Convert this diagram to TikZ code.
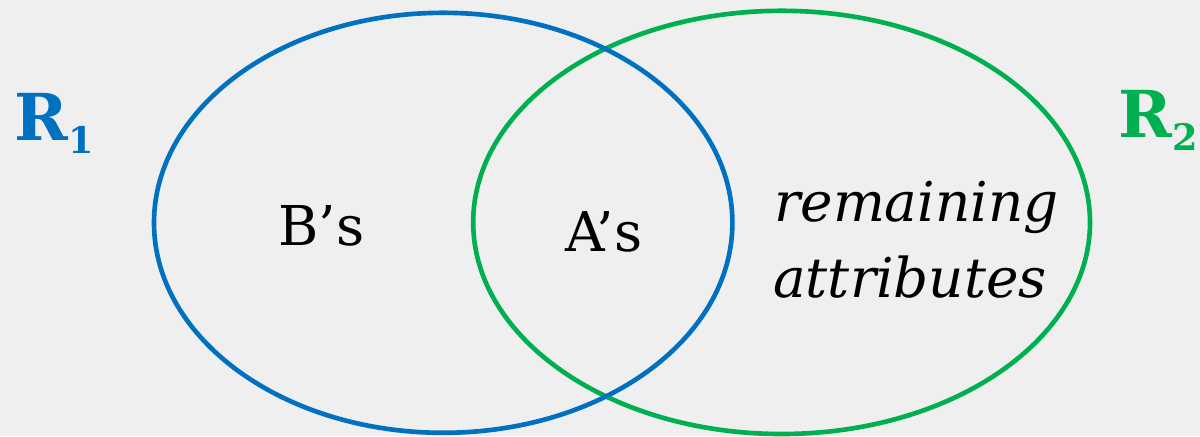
\documentclass[tikz,border=0pt]{standalone}
\usepackage{fontspec}
\setmainfont{DejaVu Serif}
\usepackage{tikz}
\usetikzlibrary{positioning}
\definecolor{setblue}{HTML}{0070C0}
\definecolor{setgreen}{HTML}{00B050}
\definecolor{paneback}{HTML}{EFEFEF}
\newcommand{\relname}[1]{R\raisebox{-0.33cm}{\fontsize{26}{30}\selectfont\bfseries #1}}

\begin{document}
\begin{tikzpicture}[line cap=round, line join=round,
    setline/.style={line width=3.3pt},
    lbl/.style={inner sep=0pt, anchor=base, font=\fontsize{39}{47}\selectfont},
    rel/.style={inner sep=0pt, anchor=base west, font=\fontsize{46}{55}\selectfont\bfseries}]
  % Fondo
  \fill[paneback] (0,0) rectangle (30,10.9);
  \useasboundingbox (0,0) rectangle (30,10.9);

  % Conjuntos
  \draw[setline, setgreen] (19.54,5.34) ellipse [x radius=7.71, y radius=5.29];
  \draw[setline, setblue] (11.08,5.33) ellipse [x radius=7.23, y radius=5.25];

  % Etiquetas
  \node[lbl] (bs) at (8.04,4.775) {B’s};
  \node[lbl] (as) at (15.09,4.625) {A’s};
  \node[lbl, font=\fontsize{39}{47}\selectfont\itshape] (rem) at (22.91,5.375) {remaining};
  \node[lbl, font=\fontsize{39}{47}\selectfont\itshape] (attr) at (22.75,3.475) {attributes};

  % Relaciones
  \node[rel, setblue] (r1) at (0.35,7.4) {\relname{1}};
  \node[rel, setgreen] (r2) at (27.95,7.475) {\relname{2}};
\end{tikzpicture}
\end{document}
